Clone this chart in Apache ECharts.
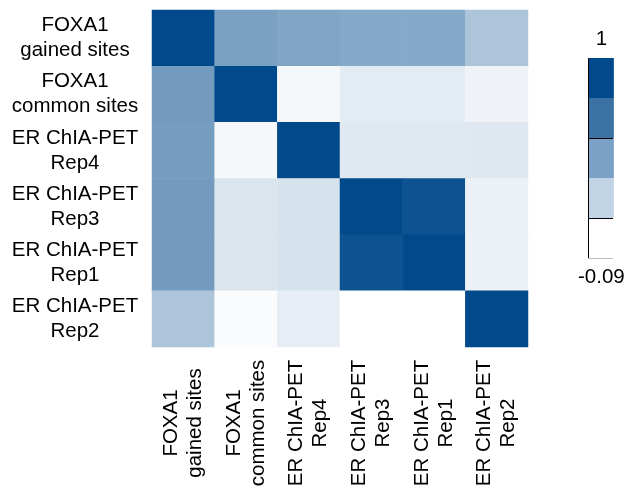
<!DOCTYPE html>
<html>
<head>
<meta charset="utf-8">
<script src="https://cdn.jsdelivr.net/npm/echarts@6/dist/echarts.min.js"></script>
<style>
    html, body { margin: 0; padding: 0; background: #ffffff; }
    #chart { width: 628px; height: 493px; }
</style>
</head>
<body>
<div id="chart"></div>
<script>
    // 行列标签（上到下 / 左到右）
    var labels = [
        'FOXA1\ngained sites',
        'FOXA1\ncommon sites',
        'ER ChIA-PET\nRep4',
        'ER ChIA-PET\nRep3',
        'ER ChIA-PET\nRep1',
        'ER ChIA-PET\nRep2'
    ];

    // 每一行的相关系数
    var rowGained = [1, 0.48, 0.455, 0.43, 0.43, 0.26];
    var rowCommon = [0.51, 1, -0.047, 0.025, 0.025, -0.02];
    var rowRep4 = [0.50, -0.047, 1, 0.043, 0.043, 0.047];
    var rowRep3 = [0.513, 0.068, 0.085, 1, 0.945, -0.005];
    var rowRep1 = [0.513, 0.068, 0.085, 0.945, 1, -0.005];
    var rowRep2 = [0.26, -0.064, 0.017, -0.09, -0.09, 1];

    // 色条两端的文字和分段颜色（低 -> 高）
    var scaleMin = -0.09;
    var scaleMax = 1;
    var scaleText = ['1', '-0.09'];
    var pieceColors = ['#ffffff', '#c0d4e5', '#7ba2c6', '#3c71a4', '#004a8b'];

    var rows = [rowGained, rowCommon, rowRep4, rowRep3, rowRep1, rowRep2];
    var cells = [];
    rows.forEach(function (row, y) {
        row.forEach(function (v, x) {
            cells.push([x, y, v]);
        });
    });

    // 分段色条
    var step = (scaleMax - scaleMin) / pieceColors.length;
    var pieces = pieceColors.map(function (c, i) {
        return { min: scaleMin + step * i, max: scaleMin + step * (i + 1), color: c };
    });

    var font = 'Liberation Sans, Arial, Helvetica, sans-serif';

    // 色条的位置，用于画边线
    var cbLeft = 588, cbTop = 58, cbW = 25, cbPieceH = 40;
    var cbBottom = cbTop + cbPieceH * pieceColors.length;

    function cbLine(x1, y1, x2, y2, color) {
        return {
            type: 'line', silent: true, z: 100,
            shape: { x1: x1, y1: y1, x2: x2, y2: y2 },
            style: { stroke: color, lineWidth: 1 }
        };
    }

    var chart = echarts.init(document.getElementById('chart'));
    var option = {
        animation: false,
        backgroundColor: '#ffffff',
        grid: { left: 152, top: 10, right: 100, bottom: 146 },
        xAxis: {
            type: 'category',
            data: labels,
            axisLine: { show: false },
            axisTick: { show: false },
            splitLine: { show: false },
            axisLabel: {
                rotate: 90,
                interval: 0,
                margin: 76,
                align: 'center',
                verticalAlign: 'middle',
                fontSize: 20.5,
                lineHeight: 24,
                color: '#000000',
                fontFamily: font
            }
        },
        yAxis: {
            type: 'category',
            data: labels,
            inverse: true,
            axisLine: { show: false },
            axisTick: { show: false },
            splitLine: { show: false },
            axisLabel: {
                interval: 0,
                margin: 77,
                align: 'center',
                verticalAlign: 'middle',
                padding: [0, 0, 8, 0],
                fontSize: 20.5,
                lineHeight: 25,
                color: '#000000',
                fontFamily: font
            }
        },
        visualMap: [
            {
                type: 'continuous',
                show: false,
                seriesIndex: 0,
                min: scaleMin,
                max: scaleMax,
                inRange: { color: ['#ffffff', '#004a8b'] }
            },
            {
                type: 'piecewise',
                seriesIndex: 1,
                orient: 'vertical',
                left: 578,
                top: 20,
                padding: 0,
                itemWidth: cbW,
                itemHeight: cbPieceH,
                itemGap: 0,
                itemSymbol: 'rect',
                showLabel: false,
                selectedMode: false,
                hoverLink: false,
                text: scaleText,
                textStyle: { fontSize: 20.5, lineHeight: 38, color: '#000000', fontFamily: font },
                pieces: pieces
            }
        ],
        graphic: [
            cbLine(cbLeft + 0.5, cbTop, cbLeft + 0.5, cbBottom, '#000000'),
            cbLine(cbLeft, cbTop + cbPieceH * 2 + 0.5, cbLeft + cbW, cbTop + cbPieceH * 2 + 0.5, '#000000'),
            cbLine(cbLeft, cbTop + cbPieceH * 4 + 0.5, cbLeft + cbW, cbTop + cbPieceH * 4 + 0.5, '#000000'),
            cbLine(cbLeft, cbBottom + 0.5, cbLeft + cbW, cbBottom + 0.5, '#bbbbbb')
        ],
        series: [
            {
                type: 'heatmap',
                data: cells,
                emphasis: { disabled: true },
                itemStyle: { borderWidth: 0 }
            },
            {
                type: 'scatter',
                data: [],
                silent: true
            }
        ]
    };
    chart.setOption(option);
</script>
</body>
</html>
